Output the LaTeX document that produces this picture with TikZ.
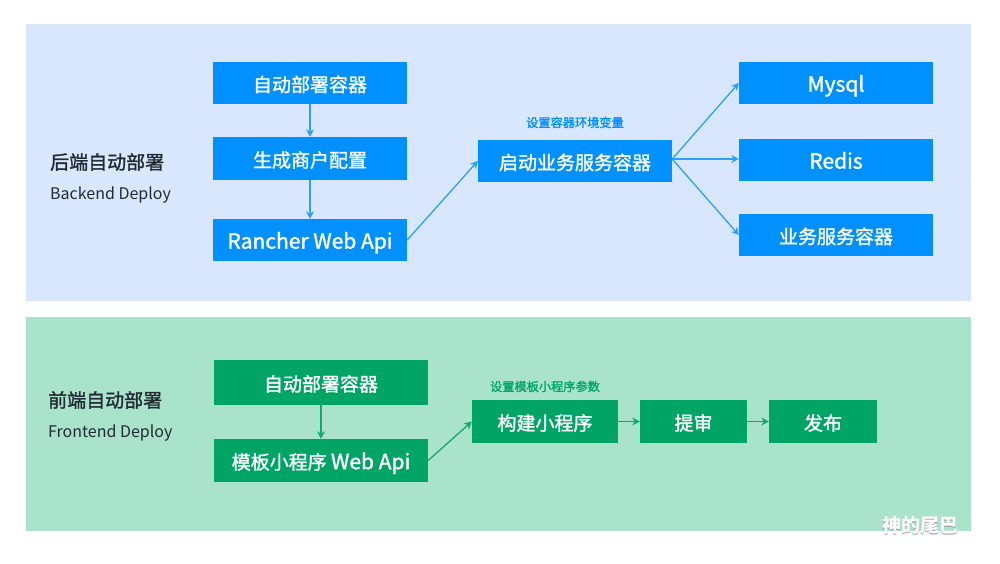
\documentclass[tikz,border=0pt]{standalone}
\usepackage{fontspec}
\setmainfont{Noto Sans CJK SC}
\newfontfamily\boxfont{Noto Sans CJK SC}[FakeBold=1.5]
\usetikzlibrary{arrows.meta}
\definecolor{bluepanel}{HTML}{D8E7FD}
\definecolor{bluebox}{HTML}{0090FF}
\definecolor{blueline}{HTML}{2C9FFB}
\definecolor{greenpanel}{HTML}{A9E3CC}
\definecolor{greenbox}{HTML}{00A566}
\definecolor{greenline}{HTML}{14A76E}
\definecolor{titletext}{HTML}{222B33}
\newcommand{\wide}[1]{{\fontsize{21}{21}\selectfont #1}}
\tikzset{
  boxtext/.style={text=white, font=\boxfont\fontsize{19}{19}\selectfont, inner sep=0, text height=18, text depth=0.6},
  bluenode/.style={boxtext, fill=bluebox, minimum width=194, minimum height=42},
  greennode/.style={boxtext, fill=greenbox, minimum height=43},
  blueedge/.style={blueline, line width=1.3, -{Stealth[length=7.5, width=8]}},
  greenedge/.style={greenline, line width=1.3, -{Stealth[length=7.5, width=8]}},
  maintitle/.style={text=titletext, anchor=west, inner sep=0, font=\boxfont\fontsize{19}{19}\selectfont},
  subtitle/.style={text=titletext, anchor=west, inner sep=0, font=\fontsize{16}{16}\selectfont},
  hint/.style={inner sep=0, font=\boxfont\fontsize{12.2}{12}\selectfont}
}
\begin{document}
\begin{tikzpicture}[x=1, y=-1]
\useasboundingbox (0, 0) rectangle (1000, 564);
\fill[bluepanel] (26, 24) rectangle (971, 301);
\fill[greenpanel] (26, 317) rectangle (971, 531);
\node[maintitle] (backtitle) at (50, 162) {后端自动部署};
\node[subtitle] (backsub) at (50, 195) {Backend Deploy};
\node[maintitle] (fronttitle) at (48, 400) {前端自动部署};
\node[subtitle] (frontsub) at (48, 433) {Frontend Deploy};
\node[bluenode] (create) at (310, 83) {自动部署容器};
\node[bluenode, minimum height=43] (config) at (310, 158.5) {生成商户配置};
\node[bluenode] (rancher) at (310, 240) {\wide{Rancher Web Api}};
\node[bluenode] (start) at (575, 161) {启动业务服务容器};
\node[bluenode] (mysql) at (836, 83) {\wide{Mysql}};
\node[bluenode] (redis) at (836, 160) {\wide{Redis}};
\node[bluenode] (service) at (836, 235) {业务服务容器};
\node[hint, text=bluebox] (envhint) at (575, 122.5) {设置容器环境变量};
\draw[blueedge] (create) -- (config);
\draw[blueedge] (config) -- (rancher);
\draw[blueedge] (rancher.east) -- (start.west);
\draw[blueedge] ([yshift=2]start.east) -- (mysql.west);
\draw[blueedge] ([yshift=2]start.east) -- ([yshift=1]redis.west);
\draw[blueedge] ([yshift=2]start.east) -- (service.west);
\node[greennode, minimum width=214, minimum height=45] (fcreate) at (321, 382.5) {自动部署容器};
\node[greennode, minimum width=214] (tmpl) at (321, 460.5) {模板小程序 \wide{Web Api}};
\node[greennode, minimum width=146] (build) at (545, 421.5) {构建小程序};
\node[greennode, minimum width=107] (audit) at (693.5, 421.5) {提审};
\node[greennode, minimum width=108] (publish) at (823, 421.5) {发布};
\node[hint, text=greenbox] (paramhint) at (545, 386.5) {设置模板小程序参数};
\draw[greenedge] (fcreate) -- (tmpl);
\draw[greenedge] (tmpl.east) -- (build.west);
\draw[greenedge] (build) -- (audit);
\draw[greenedge] (audit) -- (publish);
% watermark
\node[inner sep=0, text=black!40, font=\fontsize{19}{19}\selectfont\bfseries] (markshade) at (920.7, 525.8) {神的尾巴};
\node[inner sep=0, text=white, font=\fontsize{19}{19}\selectfont\bfseries] (mark) at (920, 525) {神的尾巴};
\end{tikzpicture}
\end{document}
